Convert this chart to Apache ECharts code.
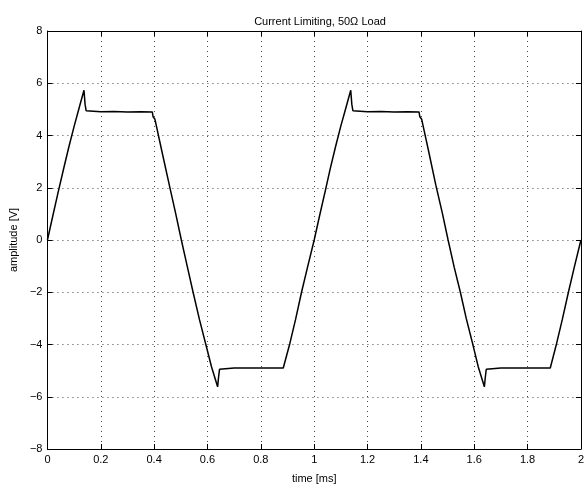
<!DOCTYPE html>
<html>
<head>
<meta charset="utf-8">
<script src="https://cdn.jsdelivr.net/npm/echarts@6/dist/echarts.min.js"></script>
<style>
html,body{margin:0;padding:0;background:#fff;}
#c{width:587px;height:489px;}
</style>
</head>
<body>
<div id="c"></div>
<script>
var titleText = "Current Limiting, 50\u03A9 Load";
var xName = "time [ms]";
var yName = "amplitude [V]";

var timeMs = [
  0, 0.02, 0.04, 0.06, 0.08, 0.10, 0.12, 0.137, 0.141, 0.145, 0.15,
  0.20, 0.25, 0.30, 0.35, 0.393, 0.396, 0.399, 0.403, 0.43, 0.458, 0.48,
  0.502, 0.525, 0.546, 0.57, 0.595, 0.615, 0.638, 0.641, 0.645, 0.65,
  0.70, 0.75, 0.80, 0.85, 0.884, 0.909, 0.93, 0.9525, 0.976,
  1.0, 1.02, 1.042, 1.06, 1.08, 1.10, 1.12, 1.137, 1.141, 1.145, 1.15,
  1.20, 1.25, 1.30, 1.35, 1.393, 1.396, 1.399, 1.403, 1.43, 1.456, 1.48,
  1.502, 1.525, 1.548, 1.57, 1.596, 1.615, 1.638, 1.641, 1.645, 1.65,
  1.70, 1.75, 1.80, 1.85, 1.885, 1.909, 1.93, 1.953, 1.976, 2.0
];
var amplitudeV = [
  0, 0.92, 1.82, 2.7, 3.55, 4.35, 5.1, 5.73, 5.2, 4.95, 4.92,
  4.91, 4.92, 4.9, 4.91, 4.9, 4.72, 4.78, 4.62, 3.35, 2.05, 1.05,
  0, -1.05, -2.0, -3.05, -4.05, -4.85, -5.62, -5.3, -4.95, -4.9,
  -4.9, -4.9, -4.9, -4.9, -4.9, -3.95, -3.05, -2.0, -1.0,
  0, 0.92, 1.9, 2.72, 3.57, 4.37, 5.1, 5.73, 5.2, 4.95, 4.92,
  4.91, 4.92, 4.9, 4.91, 4.9, 4.72, 4.78, 4.62, 3.35, 2.1, 1.05,
  0, -1.05, -2.0, -3.0, -4.05, -4.85, -5.62, -5.3, -4.95, -4.9,
  -4.9, -4.9, -4.9, -4.9, -4.9, -3.95, -3.05, -2.0, -1.0, 0
];
var xTickStep = 0.2;
var yTickStep = 2;

var pts = timeMs.map(function(t, i){ return [t, amplitudeV[i]]; });

var font = "'Liberation Sans', Arial, Helvetica, sans-serif";
var gridLine = {show:true, lineStyle:{color:'#444', type:[1,4], width:1}};
var chart = echarts.init(document.getElementById('c'), null, {renderer:'canvas'});
chart.setOption({
  animation:false,
  backgroundColor:'#fff',
  title:{text:titleText, left:315, top:11, textAlign:'center',
    textStyle:{fontFamily:font, fontSize:11, fontWeight:'normal', color:'#000'}},
  grid:{left:46, right:4, top:31, bottom:35},
  xAxis:[{
    type:'value', min:0, max:2, interval:xTickStep, position:'bottom',
    name:xName, nameLocation:'middle', nameGap:24,
    nameTextStyle:{fontFamily:font, fontSize:11, color:'#000'},
    axisLine:{show:true, onZero:false, lineStyle:{color:'#000', width:1}},
    axisTick:{show:true, inside:true, length:5, lineStyle:{color:'#000'}},
    axisLabel:{fontFamily:font, fontSize:11, color:'#000', margin:5},
    splitLine:gridLine
  },{
    type:'value', min:0, max:2, interval:xTickStep, position:'top',
    axisLine:{show:true, onZero:false, lineStyle:{color:'#000', width:1}},
    axisTick:{show:true, inside:true, length:5, lineStyle:{color:'#000'}},
    axisLabel:{show:false}, splitLine:{show:false}
  }],
  yAxis:[{
    type:'value', min:-8, max:8, interval:yTickStep, position:'left',
    name:yName, nameLocation:'middle', nameGap:25, nameRotate:90,
    nameTextStyle:{fontFamily:font, fontSize:11, color:'#000'},
    axisLine:{show:true, onZero:false, lineStyle:{color:'#000', width:1}},
    axisTick:{show:true, inside:true, length:5, lineStyle:{color:'#000'}},
    axisLabel:{fontFamily:font, fontSize:11, color:'#000', margin:5,
      formatter:function(v){ return String(v).replace('-', '\u2212'); }},
    splitLine:gridLine
  },{
    type:'value', min:-8, max:8, interval:yTickStep, position:'right',
    axisLine:{show:true, onZero:false, lineStyle:{color:'#000', width:1}},
    axisTick:{show:true, inside:true, length:5, lineStyle:{color:'#000'}},
    axisLabel:{show:false}, splitLine:{show:false}
  }],
  series:[{
    type:'line', data:pts, xAxisIndex:0, yAxisIndex:0,
    showSymbol:false, symbol:'none',
    lineStyle:{color:'#000', width:1.5}
  }]
});
</script>
</body>
</html>
